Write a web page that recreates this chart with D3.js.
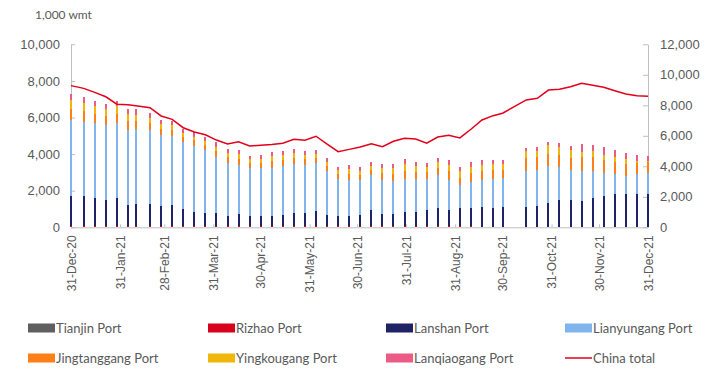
<!DOCTYPE html>
<html>
<head>
<meta charset="utf-8">
<script src="https://cdn.jsdelivr.net/npm/d3@7"></script>
<style>
  body { margin: 0; background: #fff; }
  svg { font-family: Lato, "Open Sans", sans-serif; }
  .axis text { fill: #595959; }
  .axis path, .axis line { stroke: #bfbfbf; }
</style>
</head>
<body>
<div id="chart"></div>
<script>
// weekly readings, 1,000 wmt
const dates = ["31-Dec-20","08-Jan-21","15-Jan-21","22-Jan-21","29-Jan-21","05-Feb-21","10-Feb-21","19-Feb-21","26-Feb-21",
  "05-Mar-21","12-Mar-21","19-Mar-21","26-Mar-21","02-Apr-21","09-Apr-21","16-Apr-21","23-Apr-21","30-Apr-21",
  "07-May-21","14-May-21","21-May-21","28-May-21","04-Jun-21","11-Jun-21","18-Jun-21","25-Jun-21",
  "02-Jul-21","09-Jul-21","16-Jul-21","23-Jul-21","30-Jul-21","06-Aug-21","13-Aug-21","20-Aug-21","27-Aug-21",
  "03-Sep-21","10-Sep-21","17-Sep-21","24-Sep-21","30-Sep-21","15-Oct-21","22-Oct-21","29-Oct-21",
  "05-Nov-21","12-Nov-21","19-Nov-21","26-Nov-21","03-Dec-21","10-Dec-21","17-Dec-21","24-Dec-21","31-Dec-21"];

const tianjin = new Array(52).fill(0);
const rizhao = [80,80,80,80,80,80,80,80,80,80,80,80,80,80,80,80,80,80,80,80,80,80,80,80,80,80,
  80,80,80,80,80,80,80,80,80,80,80,0,0,0,0,0,0,0,0,0,0,0,0,0,0,0];
const lanshan = [1630,1630,1520,1410,1520,1140,1190,1190,1080,1140,920,760,700,700,540,650,540,540,
  540,590,700,700,810,590,540,540,590,870,650,650,760,760,870,980,870,980,980,
  1090,1040,1090,1090,1150,1310,1490,1490,1450,1620,1730,1820,1800,1820,1820];
const lianyungang = [4150,4060,4110,4110,4110,4120,4120,4060,3900,3790,3640,3620,3440,3080,2910,2680,2610,2640,
  2640,2680,2680,2620,2640,2400,2020,1970,1910,1910,1860,1800,1800,1800,1690,1800,1640,1260,1440,
  1490,1600,1620,2000,2000,2060,1800,1660,1620,1460,1240,1110,1000,1110,1170];
const jingtang = [600,560,480,470,500,450,420,360,330,330,300,290,280,310,300,330,280,280,
  350,330,330,310,280,280,270,330,290,290,360,390,460,390,360,390,460,370,490,
  500,480,440,710,680,640,660,660,780,780,710,640,660,600,600];
const yingkou = [490,450,420,380,400,380,340,290,240,250,220,210,220,240,220,250,210,210,
  270,260,260,240,210,210,200,260,220,220,280,300,370,300,280,300,370,360,330,
  350,320,300,360,350,460,440,400,270,310,270,290,270,90,40];
const lanqiao = [310,340,290,280,290,320,300,250,230,240,220,230,210,240,230,240,200,200,
  240,230,230,220,200,200,190,230,200,200,230,240,260,240,230,240,260,240,240,
  240,240,230,200,190,180,200,240,420,330,440,370,330,330,270];
const chinaTotal = [9290,9110,8850,8560,8070,8040,7970,7840,7300,7080,6530,6250,6070,5720,5460,5610,5330,5380,
  5430,5510,5770,5710,5970,5460,4960,5110,5270,5480,5290,5640,5840,5790,5510,5920,6030,5860,6430,
  7040,7320,7480,8350,8460,9000,9050,9220,9440,9310,9180,8960,8740,8630,8590];

const monthTicks = ["31-Dec-20","31-Jan-21","28-Feb-21","31-Mar-21","30-Apr-21","31-May-21","30-Jun-21",
  "31-Jul-21","31-Aug-21","30-Sep-21","31-Oct-21","30-Nov-21","31-Dec-21"];
const leftTicks = [0,2000,4000,6000,8000,10000];
const rightTicks = [0,2000,4000,6000,8000,10000,12000];

const ports = [
  { key: "Tianjin Port", values: tianjin, color: "#5f5f5f" },
  { key: "Rizhao Port", values: rizhao, color: "#d9001b" },
  { key: "Lanshan Port", values: lanshan, color: "#1f2265" },
  { key: "Lianyungang Port", values: lianyungang, color: "#7fb5ec" },
  { key: "Jingtanggang Port", values: jingtang, color: "#fd7f17" },
  { key: "Yingkougang Port", values: yingkou, color: "#f0b70a" },
  { key: "Lanqiaogang Port", values: lanqiao, color: "#ec5b85" }
];

const width = 708, height = 378;
const margin = { top: 44.3, right: 60, bottom: 150.7, left: 71 };
const parse = d3.timeParse("%d-%b-%y");
const fmt = d3.format(",");

const rows = dates.map((d, i) => {
  const r = { date: parse(d), total: chinaTotal[i] };
  ports.forEach(p => r[p.key] = p.values[i]);
  return r;
});

const svg = d3.select("#chart").append("svg")
  .attr("width", width)
  .attr("height", height);

const x = d3.scaleTime()
  .domain([parse("31-Dec-20"), parse("31-Dec-21")])
  .range([margin.left, width - margin.right]);

const y = d3.scaleLinear().domain([0, 10000]).range([height - margin.bottom, margin.top]);
const y2 = d3.scaleLinear().domain([0, 12000]).range([height - margin.bottom, margin.top]);

// axes
const xAxis = svg.append("g")
  .attr("class", "axis")
  .attr("transform", `translate(0,${height - margin.bottom})`)
  .call(d3.axisBottom(x).tickValues(monthTicks.map(parse)).tickFormat(d3.timeFormat("%d-%b-%y"))
    .tickSizeInner(-3).tickSizeOuter(0));
xAxis.selectAll("text")
  .attr("transform", "rotate(-90)")
  .attr("text-anchor", "end")
  .attr("x", -8)
  .attr("y", 0)
  .attr("dy", "0.35em")
  .style("font-size", "12px");

svg.append("g")
  .attr("class", "axis")
  .attr("transform", `translate(${margin.left},0)`)
  .call(d3.axisLeft(y).tickValues(leftTicks).tickFormat(fmt).tickSizeInner(-4).tickSizeOuter(0).tickPadding(11))
  .selectAll("text").style("font-size", "13px");

svg.append("g")
  .attr("class", "axis")
  .attr("transform", `translate(${width - margin.right},0)`)
  .call(d3.axisRight(y2).tickValues(rightTicks).tickFormat(fmt).tickSizeInner(-5).tickSizeOuter(0).tickPadding(12))
  .selectAll("text").style("font-size", "13px");

// stacked bars
const stack = d3.stack().keys(ports.map(p => p.key));
const layers = stack(rows);

svg.append("g")
  .attr("shape-rendering", "crispEdges")
  .selectAll("g")
  .data(layers)
  .enter().append("g")
  .attr("fill", (d, i) => ports[i].color)
  .selectAll("rect")
  .data(d => d)
  .enter().append("rect")
  .attr("x", d => Math.round(x(d.data.date)) - 1)
  .attr("width", 2)
  .attr("y", d => y(d[1]))
  .attr("height", d => y(d[0]) - y(d[1]));

// China total line, right axis
svg.append("path")
  .datum(rows)
  .attr("fill", "none")
  .attr("stroke", "#e2001a")
  .attr("stroke-width", 1.5)
  .attr("d", d3.line().x(d => x(d.date)).y(d => y2(d.total)));

// unit
svg.append("text")
  .attr("x", 35)
  .attr("y", 19)
  .attr("fill", "#595959")
  .style("font-size", "12px")
  .text("1,000 wmt");

// legend
const legendItems = ports.map(p => ({ key: p.key, color: p.color, type: "rect" }))
  .concat([{ key: "China total", color: "#e2001a", type: "line" }]);
const colX = [28, 208, 386, 565];
const rowY = [328, 358];

const legend = svg.append("g").selectAll("g")
  .data(legendItems)
  .enter().append("g")
  .attr("transform", (d, i) => `translate(${colX[i % 4]},${rowY[Math.floor(i / 4)]})`);

legend.filter(d => d.type === "rect").append("rect")
  .attr("x", 0).attr("y", -4.5).attr("width", 27).attr("height", 9)
  .attr("fill", d => d.color);

legend.filter(d => d.type === "line").append("line")
  .attr("x1", 0).attr("x2", 27).attr("y1", 0).attr("y2", 0)
  .attr("stroke", d => d.color).attr("stroke-width", 1.5);

legend.append("text")
  .attr("x", 28)
  .attr("y", 0)
  .attr("dy", "0.35em")
  .attr("fill", "#595959")
  .style("font-size", "13px")
  .text(d => d.key);
</script>
</body>
</html>
